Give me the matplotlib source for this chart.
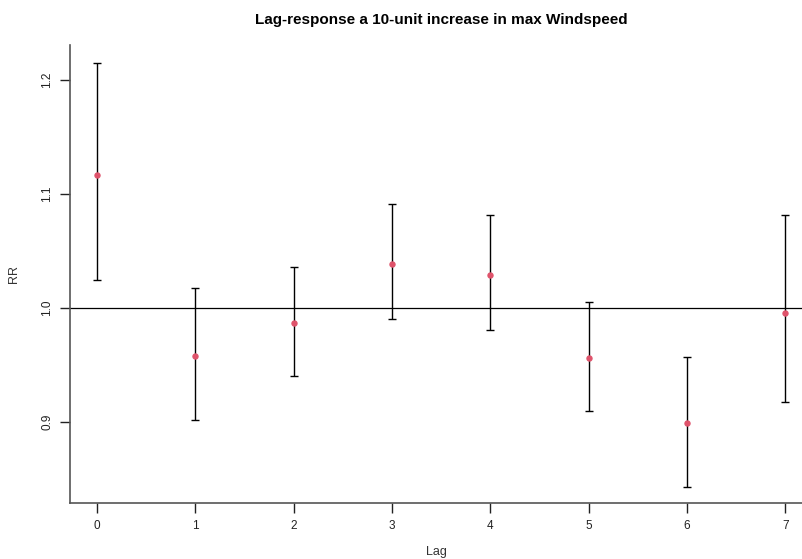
import numpy as np
import matplotlib.pyplot as plt

plt.rcParams['font.family'] = ['Liberation Sans', 'DejaVu Sans']

# lag-response estimates
lags = [0, 1, 2, 3, 4, 5, 6, 7]
rr = [1.117, 0.958, 0.987, 1.039, 1.029, 0.956, 0.899, 0.996]
rr_low = [1.025, 0.902, 0.940, 0.990, 0.981, 0.910, 0.843, 0.918]
rr_high = [1.215, 1.018, 1.036, 1.091, 1.082, 1.005, 0.957, 1.082]

rr = np.array(rr)
yerr = [rr - np.array(rr_low), np.array(rr_high) - rr]

fig = plt.figure(figsize=(8.03, 5.59), dpi=100)
ax = fig.add_axes([70 / 803, 56 / 559, 733 / 803, 458 / 559])

ax.axhline(1.0, color='black', lw=0.9, zorder=1)
ax.errorbar(lags, rr, yerr=yerr, fmt='none', ecolor='black', elinewidth=1.0,
            capsize=2.6, capthick=1.0, zorder=2)
ax.plot(lags, rr, 'o', color='#DF536B', markersize=3.6, zorder=3)

ax.set_xlim(-0.275, 7.18)
ax.set_ylim(0.829, 1.2307)
ax.set_xticks(lags)
ax.set_yticks([0.9, 1.0, 1.1, 1.2])
ax.set_yticklabels(['0.9', '1.0', '1.1', '1.2'], rotation=90, va='center')

for side in ['top', 'right']:
    ax.spines[side].set_visible(False)
for side in ['left', 'bottom']:
    ax.spines[side].set_color('#555555')
    ax.spines[side].set_linewidth(1.2)
ax.tick_params(direction='out', length=7, width=1, colors='#222222',
               labelsize=8.5, pad=5)

ax.set_xlabel('Lag', fontsize=9, color='#333333', labelpad=10)
ax.set_ylabel('RR', fontsize=9, color='#333333', labelpad=15)
fig.text(0.55, 0.965, 'Lag-response a 10-unit increase in max Windspeed',
         ha='center', va='center', fontsize=11, fontweight='bold')

fig.savefig('out.png', dpi=100)
